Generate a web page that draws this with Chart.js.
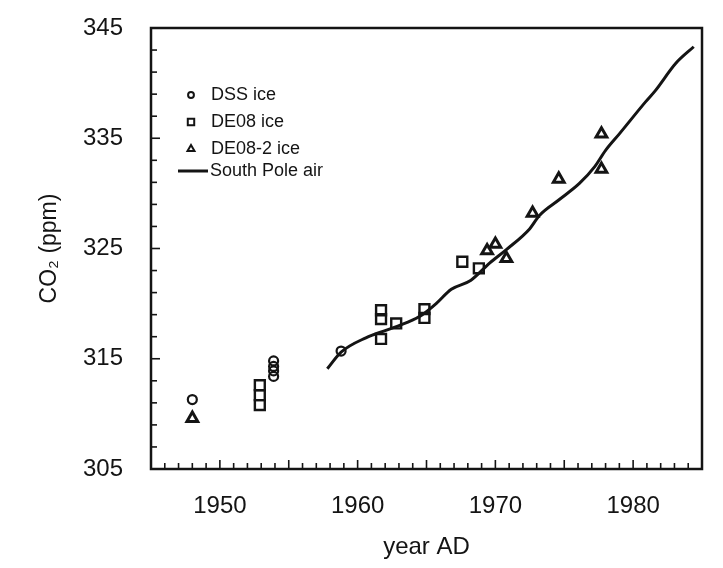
<!DOCTYPE html>
<html>
<head>
<meta charset="utf-8">
<script src="https://cdn.jsdelivr.net/npm/chart.js@4.4.1/dist/chart.umd.min.js"></script>
<style>
  html, body { margin: 0; padding: 0; background: #ffffff; }
  #wrap { width: 723px; height: 568px; }
</style>
</head>
<body>
<div id="wrap"><canvas id="c" width="723" height="568"></canvas></div>
<script>
// Axis ranges and labelled ticks
const yearRange = [1945, 1985];
const co2Range = [305, 345];
const yearLabels = [1950, 1960, 1970, 1980];
const co2Labels = [305, 315, 325, 335, 345];

// DSS ice core (year AD, CO2 ppm)
const dssYears = [1948.0, 1953.9, 1953.9, 1953.9, 1953.9, 1958.8];
const dssCo2   = [311.3, 314.8, 314.3, 313.9, 313.4, 315.7];

// DE08 ice core
const de08Years = [1952.9, 1952.9, 1952.9, 1961.7, 1961.7, 1961.7, 1962.8, 1964.85, 1964.85, 1967.6, 1968.8];
const de08Co2   = [312.6, 311.7, 310.8, 319.4, 318.6, 316.8, 318.2, 319.5, 318.7, 323.8, 323.2];

// DE08-2 ice core
const de082Years = [1948.0, 1969.4, 1970.0, 1970.8, 1972.7, 1974.6, 1977.7, 1977.7];
const de082Co2   = [309.6, 324.8, 325.4, 324.1, 328.2, 331.3, 335.4, 332.2];

// South Pole atmospheric record
const airYears = [1957.8, 1958.8, 1960.6, 1962.1, 1963.6, 1964.7, 1965.7, 1966.8, 1968.2, 1969.6,
                  1970.8, 1972.5, 1973.2, 1974.6, 1976.1, 1977.2, 1978.0, 1979.0, 1980.9, 1981.6,
                  1983.1, 1984.4];
const airCo2   = [314.1, 315.6, 316.9, 317.6, 318.3, 319.0, 320.0, 321.3, 322.1, 323.7,
                  324.9, 326.8, 328.0, 329.4, 330.9, 332.4, 333.9, 335.4, 338.3, 339.3,
                  341.8, 343.3];

const seriesNames = ['DSS ice', 'DE08 ice', 'DE08-2 ice', 'South Pole air'];

const INK = '#141414';
const FONT = "'Liberation Sans', Arial, Helvetica, sans-serif";

const toPoints = (xs, ys) => xs.map((x, i) => ({ x: x, y: ys[i] }));

// Frame, inward tick marks and the in-plot key
const framePlugin = {
  id: 'frame',
  afterDraw(chart) {
    const { ctx, chartArea: a, scales } = chart;
    ctx.save();
    ctx.strokeStyle = INK;
    ctx.lineCap = 'butt';

    // inward ticks on x axis
    ctx.lineWidth = 1.6;
    scales.x.ticks.forEach(t => {
      const v = Math.round(t.value);
      const px = scales.x.getPixelForValue(v);
      const len = (v % 5 === 0) ? 9 : 6;
      ctx.beginPath();
      ctx.moveTo(px, a.bottom);
      ctx.lineTo(px, a.bottom - len);
      ctx.stroke();
    });
    // inward ticks on y axis
    scales.y.ticks.forEach(t => {
      const v = Math.round(t.value);
      const py = scales.y.getPixelForValue(v);
      const len = ((v - 305) % 10 === 0) ? 9 : 6;
      ctx.beginPath();
      ctx.moveTo(a.left, py);
      ctx.lineTo(a.left + len, py);
      ctx.stroke();
    });

    // plot frame
    ctx.lineWidth = 2.5;
    ctx.strokeRect(a.left, a.top, a.right - a.left, a.bottom - a.top);

    // key
    const kx = a.left + 40;
    const tx = a.left + 60;
    const rows = [a.top + 67, a.top + 94, a.top + 121, a.top + 143];
    ctx.font = '18px ' + FONT;
    ctx.textBaseline = 'middle';
    ctx.textAlign = 'left';
    chart.data.datasets.forEach((ds, i) => {
      const y = rows[i];
      if (ds.showLine) {
        ctx.lineWidth = 3;
        ctx.beginPath();
        ctx.moveTo(a.left + 27, y);
        ctx.lineTo(a.left + 57, y);
        ctx.stroke();
        ctx.fillStyle = INK;
        ctx.fillText(ds.label, tx - 1, y);
      } else {
        ctx.fillStyle = 'rgba(255,255,255,0)';
        ctx.lineWidth = 2;
        Chart.helpers.drawPoint(ctx, {
          pointStyle: ds.pointStyle,
          radius: ds.pointRadius * 0.65,
          borderWidth: 2
        }, kx, y);
        ctx.fillStyle = INK;
        ctx.fillText(ds.label, tx, y);
      }
    });
    ctx.restore();
  }
};

new Chart(document.getElementById('c'), {
  type: 'scatter',
  data: {
    datasets: [
      {
        label: seriesNames[0],
        data: toPoints(dssYears, dssCo2),
        pointStyle: 'circle',
        pointRadius: 4.5,
        borderWidth: 2.2,
        borderColor: INK,
        backgroundColor: 'rgba(255,255,255,0)'
      },
      {
        label: seriesNames[1],
        data: toPoints(de08Years, de08Co2),
        pointStyle: 'rect',
        pointRadius: 7,
        borderWidth: 2.4,
        borderColor: INK,
        backgroundColor: 'rgba(255,255,255,0)'
      },
      {
        label: seriesNames[2],
        data: toPoints(de082Years, de082Co2),
        pointStyle: 'triangle',
        pointRadius: 6.2,
        borderWidth: 3,
        borderColor: INK,
        backgroundColor: 'rgba(255,255,255,0)'
      },
      {
        label: seriesNames[3],
        data: toPoints(airYears, airCo2),
        showLine: true,
        pointRadius: 0,
        borderWidth: 3,
        borderColor: INK,
        cubicInterpolationMode: 'monotone',
        fill: false
      }
    ]
  },
  options: {
    responsive: false,
    animation: false,
    devicePixelRatio: 1,
    layout: { padding: { left: 0, right: 21, top: 28, bottom: 0 } },
    plugins: {
      legend: { display: false },
      tooltip: { enabled: false }
    },
    scales: {
      x: {
        type: 'linear',
        min: yearRange[0],
        max: yearRange[1],
        afterFit(scale) { scale.height = 99; scale.paddingLeft = 0; scale.paddingRight = 0; },
        grid: { display: false, drawTicks: false },
        border: { display: false },
        ticks: {
          stepSize: 1,
          autoSkip: false,
          maxRotation: 0,
          padding: 23,
          color: INK,
          font: { family: FONT, size: 24 },
          callback: (v) => yearLabels.includes(Math.round(v)) ? String(Math.round(v)) : ''
        },
        title: {
          display: true,
          text: 'year AD',
          color: INK,
          font: { family: FONT, size: 24 },
          padding: { top: 0, bottom: 6 }
        }
      },
      y: {
        type: 'linear',
        min: co2Range[0],
        max: co2Range[1],
        afterFit(scale) { scale.width = 151; scale.paddingTop = 0; scale.paddingBottom = 0; },
        grid: { display: false, drawTicks: false },
        border: { display: false },
        ticks: {
          stepSize: 2,
          autoSkip: false,
          padding: 28,
          color: INK,
          font: { family: FONT, size: 24 },
          callback: (v) => co2Labels.includes(Math.round(v)) ? String(Math.round(v)) : ''
        },
        title: {
          display: true,
          text: 'CO₂ (ppm)',
          color: INK,
          font: { family: FONT, size: 23 },
          padding: { top: 36, bottom: 0 }
        }
      }
    }
  },
  plugins: [framePlugin]
});
</script>
</body>
</html>
